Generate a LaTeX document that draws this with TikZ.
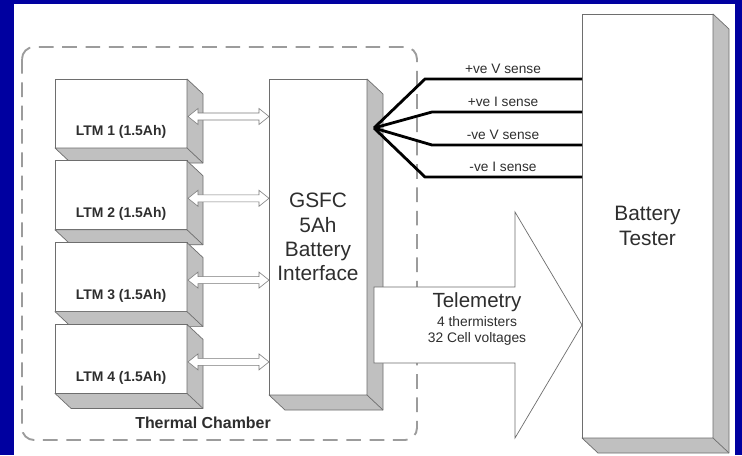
\documentclass[tikz,border=0pt]{standalone}
\usepackage{fontspec}
\setmainfont{Liberation Sans}
\usetikzlibrary{arrows.meta, positioning, calc}
\definecolor{slideblue}{HTML}{0000A0}
\definecolor{facegray}{HTML}{C0C0C0}
\definecolor{edgegray}{HTML}{6E6E6E}
\definecolor{dashgray}{HTML}{9C9C9C}
\definecolor{arrowgray}{HTML}{7A7A7A}
\definecolor{inkgray}{HTML}{2E2E2E}
\newcommand{\px}{0.3mm}
% side and bottom faces of a box node
\newcommand{\slabfaces}[1]{%
  \filldraw[face] (#1.north east) -- ++(16,15) -- ($(#1.south east)+(16,15)$)
    -- ($(#1.south west)+(16,15)$) -- (#1.south west) -- (#1.south east) -- cycle;
  \draw[face] (#1.south east) -- ++(16,15);}
% hollow two-headed arrow between two points
\newcommand{\dblarrow}[2]{%
  \filldraw[dbl] (#1) -- ++(10,-8) -- ++(0,4.5) -- ($(#2)+(-10,-3.5)$) -- ++(0,-4.5) -- (#2)
    -- ++(-10,8) -- ++(0,-4.5) -- ($(#1)+(10,3.5)$) -- ++(0,4.5) -- cycle;}

\begin{document}
\begin{tikzpicture}[x=\px, y=-\px,
    face/.style={fill=facegray, draw=edgegray, line width=0.6pt, line join=round},
    slab/.style={draw=edgegray, fill=white, line width=0.6pt, outer sep=0pt, inner sep=0pt},
    ltm/.style={slab, minimum width=132*\px, minimum height=69*\px},
    ltmtext/.style={font=\fontsize{11.9}{14}\selectfont\bfseries, text=inkgray},
    bigtext/.style={font=\fontsize{17.8}{20.8}\selectfont, text=inkgray, align=center},
    sense/.style={font=\fontsize{11.7}{14}\selectfont, text=inkgray, inner sep=2pt, above=2pt},
    chamber/.style={draw=dashgray, line width=1.6pt, dash pattern=on 4.4mm off 2.6mm, rounded corners=3.6mm},
    dbl/.style={draw=arrowgray, fill=white, line width=0.5pt, line join=miter},
    wire/.style={line width=2.4pt, line join=miter},
    tele/.style={draw=edgegray, fill=white, line width=0.6pt}
]
\useasboundingbox (0,0) rectangle (742,455);
\fill[slideblue] (0,0) rectangle (742,455);
\fill[white] (14,4) rectangle (735,455);

\draw[chamber] (22,47) rectangle (417,440);
\node[ltmtext, font=\fontsize{13.6}{16}\selectfont\bfseries] (chamberlbl) at (203,423) {Thermal Chamber};

% battery modules
\foreach \i in {1,...,4}{
  \node[ltm] (ltm\i) at (121,{113.5+81.8*(\i-1)}) {};
  \slabfaces{ltm\i}
  \node[ltmtext] (ltm\i txt) at ($(ltm\i.center)+(0,18.5)$) {LTM \i\ (1.5Ah)};
}

\node[slab, minimum width=98*\px, minimum height=316*\px] (gsfc) at (318,237) {};
\slabfaces{gsfc}
\node[bigtext] (gsfctxt) at (gsfc.center) {GSFC\\5Ah\\Battery\\Interface};

\foreach \i in {1,...,4}{
  \dblarrow{$(ltm\i.east)+(1,3)$}{$(ltm\i.east -| gsfc.west)+(0,3)$}
}

\node[slab, minimum width=131*\px, minimum height=424*\px] (tester) at (647.5,226) {};
\slabfaces{tester}
\node[bigtext, font=\fontsize{17.8}{22}\selectfont] (testertxt) at (tester.center) {Battery\\Tester};

% sense leads
\coordinate (hub) at (374,128);
\foreach \yy/\bx/\txt [count=\k] in {79/425/{+ve V sense}, 112/432/{+ve I sense}, 145/432/{-ve V sense}, 177/425/{-ve I sense}}{
  \draw[wire] (hub) -- (\bx,\yy) -- (tester.west |- 0,\yy);
  \node[sense] (sense\k) at (503,\yy) {\txt};
}

% telemetry
\coordinate (telS) at (374,325);
\coordinate (telT) at (tester.west |- telS);
\filldraw[tele] ($(telS)+(0,-38)$) -- ($(telT)+(-67,-38)$) -- ($(telT)+(-67,-113)$) -- (telT)
  -- ($(telT)+(-67,113)$) -- ($(telT)+(-67,38)$) -- ($(telS)+(0,38)$) -- cycle;
\node[bigtext] (telem) at (477,319) {{\fontsize{17.5}{20}\selectfont Telemetry}\\[-5pt]
  {\fontsize{11.8}{13.7}\selectfont 4 thermisters}\\[-7pt]{\fontsize{11.8}{13.7}\selectfont 32 Cell voltages}};
\end{tikzpicture}
\end{document}
